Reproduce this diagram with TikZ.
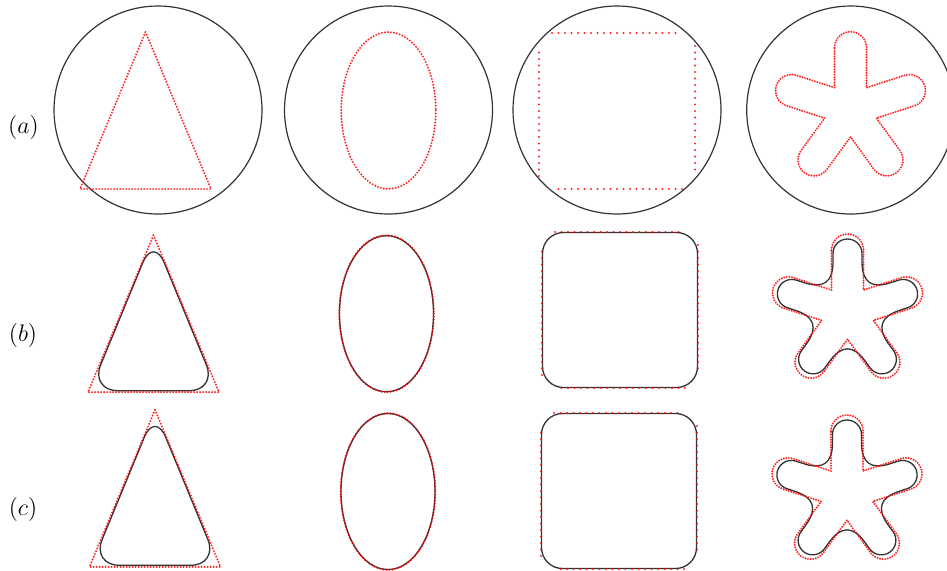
\documentclass[tikz,border=0pt]{standalone}
\usepackage{tikz}
\tikzset{rd/.style={red,opacity=.85,line width=1.1pt,line cap=round,dash pattern=on 0pt off 1.5pt},
 rs/.style={rd,dash pattern=on 0pt off 3.25pt},
 bk/.style={black!80,line width=.65pt},ci/.style={bk,line width=.6pt},
 lb/.style={font=\large,inner sep=0pt}}
\newcommand{\rtri}[2]{\draw[rd](#1,#2-78.5)--(#1+65.5,#2+78.5)--(#1-65.5,#2+78.5)--cycle;}
\newcommand{\btri}[2]{\draw[bk,rounded corners=14pt](#1,#2-77)--(#1+63.5,#2+77)--(#1-63.5,#2+77)--cycle;}
\newcommand{\rell}[2]{\draw[rd](#1,#2)ellipse[x radius=47.3,y radius=78.4];}
\newcommand{\bell}[2]{\draw[bk](#1,#2)ellipse[x radius=47,y radius=78];}
\newcommand{\rsq}[2]{\draw[rs](#1-65,#2-78)--(#1+65,#2-78)(#1+78,#2-65)--(#1+78,#2+65)(#1+65,#2+78)--(#1-65,#2+78)(#1-78,#2+65)--(#1-78,#2-65);}
\newcommand{\bsq}[2]{\draw[bk,rounded corners=10.5pt](#1-77.5,#2-77.5)rectangle(#1+77.5,#2+77.5);}
% five-armed star: arm length, arm half width, valley radius, valley fillet
\newcommand{\stp}[4]{([shift={(-90:#1)}]180:#2)\foreach\a in{-90,-18,54,126,198}{arc[start angle=\a-90,end angle=\a+90,radius=#2]
 --([shift={(\a+36:#3)}]\a:#4)..controls([shift={(\a+36:#3)}]\a:#4/3)and([shift={(\a+36:#3)}]\a+72:#4/3)..([shift={(\a+36:#3)}]\a+72:#4)
 --([shift={(\a+72:#1)}]\a-18:#2)}--cycle}
\newcommand{\rst}[2]{\draw[rd,dash pattern=on 0pt off 1.3pt,shift={(#1,#2)}]\stp{62}{16}{27.2}{0};}
\newcommand{\bst}[2]{\draw[bk,shift={(#1,#2)}]\stp{58.5}{14.5}{24.7}{30};}

\begin{document}
\begin{tikzpicture}[x=.5pt,y=-.5pt]
\useasboundingbox(0,0)rectangle(947,570);\clip(0,0)rectangle(947,570);
\node[lb](pa)at(23.5,127){$(a)$};\node[lb](pb)at(23,335){$(b)$};\node[lb](pc)at(23,509){$(c)$};
% row a: initial curves inside the circles
\draw[ci](158,110)circle[radius=104];\draw[ci](388.5,110)circle[radius=104];\draw[ci](617,110)circle[radius=104];\draw[ci](850.7,110)circle[radius=104];
\rtri{145.5}{110.5}\rell{388.5}{110.5}\rsq{617}{111}\rst{850.5}{109.7}
% row b
\btri{153.5}{313.7}\rtri{153.5}{313.7}\bell{386.5}{313.7}\rell{386.5}{313.7}\bsq{620}{310}\rsq{620}{310}\bst{847.5}{312}\rst{847.5}{312}
% row c
\btri{155}{488.3}\rtri{155}{488.3}\bell{388}{491.5}\rell{388}{491.5}\bsq{619}{491}\rsq{619}{491}\bst{847}{493}\rst{847}{493}
\end{tikzpicture}
\end{document}
